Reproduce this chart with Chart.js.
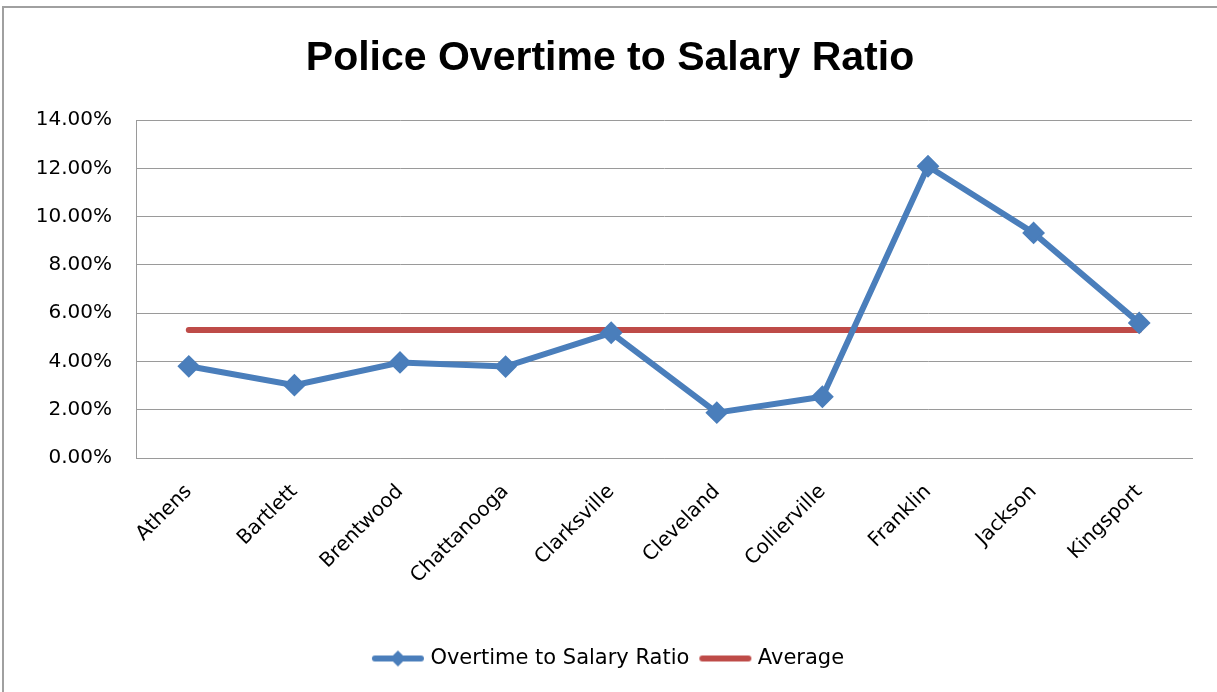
<!DOCTYPE html>
<html>
<head>
<meta charset="utf-8">
<script src="https://cdn.jsdelivr.net/npm/chart.js@4.4.1/dist/chart.umd.min.js"></script>
<style>
  html, body { margin: 0; padding: 0; background: #fff; }
  #wrap { position: relative; width: 1217px; height: 692px; overflow: hidden; }
  #frame { position: absolute; left: 2px; top: 6px; width: 1300px; height: 800px;
           border-left: 2px solid #a0a0a0; border-top: 2px solid #a0a0a0; }
  canvas { position: absolute; left: 0; top: 0; }
</style>
</head>
<body>
<div id="wrap">
  <div id="frame"></div>
  <canvas id="mycanvas" width="1217" height="692"></canvas>
</div>
<script>
var cities = ['Athens', 'Bartlett', 'Brentwood', 'Chattanooga', 'Clarksville',
              'Cleveland', 'Collierville', 'Franklin', 'Jackson', 'Kingsport'];
var overtimeRatio = [0.0380, 0.0302, 0.0396, 0.0379, 0.0519,
                     0.0188, 0.0254, 0.1209, 0.0933, 0.0560];
var averageRatio = [0.0530, 0.0530, 0.0530, 0.0530, 0.0530,
                    0.0530, 0.0530, 0.0530, 0.0530, 0.0530];
var yTicks = [0, 0.02, 0.04, 0.06, 0.08, 0.10, 0.12, 0.14];

var BLUE = '#4a7ebb';
var RED = '#be4b48';
var TITLE_FONT = "'Liberation Sans', Arial, sans-serif";
var FONT = "'DejaVu Sans', sans-serif";

// little pictures for the legend: line + diamond, plain line
function legendIcon(color, diamond) {
  var c = document.createElement('canvas');
  c.width = 54; c.height = 18;
  var g = c.getContext('2d');
  g.strokeStyle = color;
  g.lineWidth = 6;
  g.lineCap = 'round';
  g.beginPath(); g.moveTo(4, 9); g.lineTo(50, 9); g.stroke();
  if (diamond) {
    g.fillStyle = color;
    g.beginPath(); g.moveTo(27, 1); g.lineTo(35, 9); g.lineTo(27, 17); g.lineTo(19, 9);
    g.closePath(); g.fill();
  }
  return c;
}
var icons = [legendIcon(BLUE, true), legendIcon(RED, false)];

var ctx = document.getElementById('mycanvas');

new Chart(ctx, {
  type: 'line',
  data: {
    labels: cities,
    datasets: [
      {
        label: 'Overtime to Salary Ratio',
        data: overtimeRatio,
        borderColor: BLUE,
        backgroundColor: BLUE,
        borderWidth: 6,
        pointStyle: 'rectRot',
        pointRadius: 10,
        pointBorderWidth: 2,
        pointBackgroundColor: BLUE,
        pointBorderColor: BLUE,
        tension: 0,
        order: 1
      },
      {
        label: 'Average',
        data: averageRatio,
        borderColor: RED,
        backgroundColor: RED,
        borderWidth: 6,
        borderCapStyle: 'round',
        pointRadius: 0,
        tension: 0,
        order: 2
      }
    ]
  },
  options: {
    responsive: false,
    animation: false,
    layout: { padding: { left: 19, right: 16, top: 0, bottom: 13 } },
    plugins: {
      tooltip: { enabled: false },
      title: {
        display: true,
        text: 'Police Overtime to Salary Ratio',
        color: '#000',
        font: { family: TITLE_FONT, size: 41, weight: 'bold' },
        padding: { top: 34, bottom: 37 }
      },
      legend: {
        position: 'bottom',
        labels: {
          usePointStyle: true,
          pointStyleWidth: 44,
          padding: 14,
          color: '#000',
          font: { family: FONT, size: 21 },
          generateLabels: function(chart) {
            var items = Chart.defaults.plugins.legend.labels.generateLabels(chart);
            items.forEach(function(it, i) { it.pointStyle = icons[i]; });
            return items;
          }
        }
      }
    },
    scales: {
      x: {
        offset: true,
        grid: { display: false, drawTicks: false },
        border: { display: true, color: '#9a9a9a', width: 1 },
        ticks: {
          color: '#000',
          font: { family: FONT, size: 20 },
          minRotation: 45,
          maxRotation: 45,
          padding: 22
        },
        afterFit: function(s) { s.height = 176; }
      },
      y: {
        min: 0,
        max: 0.14,
        afterBuildTicks: function(s) { s.ticks = yTicks.map(function(v) { return { value: v }; }); },
        grid: { color: '#9a9a9a', lineWidth: 1, drawTicks: false },
        border: { display: true, color: '#9a9a9a', width: 1 },
        ticks: {
          color: '#000',
          font: { family: FONT, size: 20 },
          padding: 24,
          callback: function(v) { return (v * 100).toFixed(2) + '%'; }
        },
        afterFit: function(s) { s.width = 117; }
      },
      // empty strip on the right so the plot ends where the original does
      yRight: {
        position: 'right',
        display: true,
        grid: { display: false, drawTicks: false },
        border: { display: false },
        ticks: { display: false },
        afterFit: function(s) { s.width = 9; }
      }
    }
  }
});
</script>
</body>
</html>
